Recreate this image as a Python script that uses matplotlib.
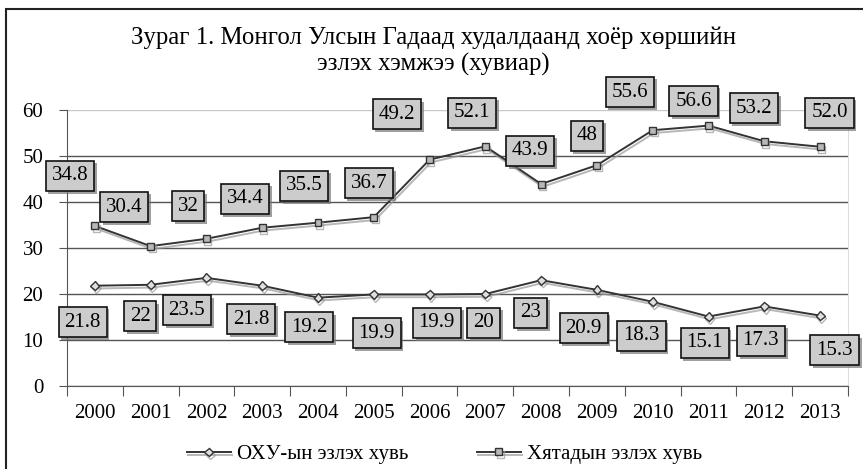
import numpy as np
import matplotlib
matplotlib.use("Agg")
import matplotlib.pyplot as plt
import matplotlib.patheffects as pe
from matplotlib.patches import Rectangle

plt.rcParams['font.family'] = ['Liberation Serif', 'DejaVu Serif']

# data
years = ['2000', '2001', '2002', '2003', '2004', '2005', '2006',
         '2007', '2008', '2009', '2010', '2011', '2012', '2013']
russia = [21.8, 22, 23.5, 21.8, 19.2, 19.9, 19.9, 20, 23, 20.9, 18.3, 15.1, 17.3, 15.3]
china = [34.8, 30.4, 32, 34.4, 35.5, 36.7, 49.2, 52.1, 43.9, 48, 55.6, 56.6, 53.2, 52.0]
russia_labels = ['21.8', '22', '23.5', '21.8', '19.2', '19.9', '19.9',
                 '20', '23', '20.9', '18.3', '15.1', '17.3', '15.3']
china_labels = ['34.8', '30.4', '32', '34.4', '35.5', '36.7', '49.2',
                '52.1', '43.9', '48', '55.6', '56.6', '53.2', '52.0']

# label box offsets from their points (category units, value units)
china_dx = [-0.45, -0.48, -0.33, -0.31, -0.25, -0.09, -0.59, -0.24, -0.2, -0.18, -0.41, -0.27, -0.19, 0.17]
china_dy = [10.85, 8.5, 7.1, 6.25, 8.0, 7.4, 9.9, 7.25, 7.2, 6.35, 8.3, 5.35, 7.2, 7.35]
russia_dx = [-0.22, -0.19, -0.35, -0.2, -0.16, 0.05, 0.13, -0.03, -0.19, -0.24, -0.2, -0.07, -0.06, 0.26]
russia_dy = [-7.9, -6.8, -7.0, -7.25, -6.4, -8.4, -6.2, -6.3, -7.1, -8.3, -7.4, -5.75, -7.5, -7.5]

fig = plt.figure(figsize=(8.63, 4.69), dpi=100)
ax = fig.add_axes([0.0776, 0.177, 0.905, 0.5885])
x = np.arange(len(years))

shadow = [pe.SimpleLineShadow(offset=(1, -2), shadow_color='#999999', alpha=0.7), pe.Normal()]
ax.plot(x, russia, color='#333333', lw=1.4, marker='D', ms=4.5, mfc='#e0e0e0', mec='#333333',
        mew=1.0, label='ОХУ-ын эзлэх хувь', path_effects=shadow, zorder=3)
ax.plot(x, china, color='#333333', lw=1.4, marker='s', ms=5, mfc='#b8b8b8', mec='#333333',
        mew=1.0, label='Хятадын эзлэх хувь', path_effects=shadow, zorder=3)

box_shadow = [pe.SimplePatchShadow(offset=(2, -2), shadow_rgbFace='#777777', alpha=0.7), pe.Normal()]
for vals, labs, dxs, dys in [(china, china_labels, china_dx, china_dy),
                             (russia, russia_labels, russia_dx, russia_dy)]:
    for i, (v, s) in enumerate(zip(vals, labs)):
        t = ax.text(i + dxs[i], v + dys[i], s, ha='center', va='center', fontsize=15,
                    zorder=5, clip_on=False,
                    bbox=dict(boxstyle='square,pad=0.28', fc='#cccccc', ec='#111111', lw=1.2))
        t.get_bbox_patch().set_path_effects(box_shadow)

ax.set_xlim(-0.5, 13.5)
ax.set_ylim(0, 60)
ax.set_yticks(range(0, 61, 10))
ax.set_xticks(np.arange(-0.5, 14, 1))
ax.set_xticklabels([])
ax.set_xticks(x, minor=True)
ax.set_xticklabels(years, minor=True)
ax.tick_params(axis='x', which='major', length=7, color='#555555')
ax.tick_params(axis='x', which='minor', length=0, pad=13, labelsize=15)
ax.tick_params(axis='y', length=6, color='#555555', pad=11, labelsize=15)
ax.grid(axis='y', color='#555555', lw=1.0)
ax.get_ygridlines()[-1].set_color('#c8c8c8')
ax.set_axisbelow(True)
ax.spines['top'].set_visible(False)
ax.spines['right'].set_color('#dddddd')
ax.spines['left'].set_color('#555555')
ax.spines['bottom'].set_color('#555555')

fig.text(0.502, 0.891, 'Зураг 1. Монгол Улсын Гадаад худалдаанд хоёр хөршийн\nэзлэх хэмжээ (хувиар)',
         ha='center', va='center', fontsize=17.8, linespacing=1.2)

fig.legend(loc='center', bbox_to_anchor=(0.515, 0.031), ncol=2, frameon=False, fontsize=15,
           handlelength=2.1, columnspacing=3.3, handletextpad=0.3)

fig.patches.append(Rectangle((6 / 863, -0.1), 1.2, 1.1 - 9 / 469, transform=fig.transFigure,
                             fill=False, ec='#222222', lw=1.5))

fig.savefig('out.png', dpi=100)
